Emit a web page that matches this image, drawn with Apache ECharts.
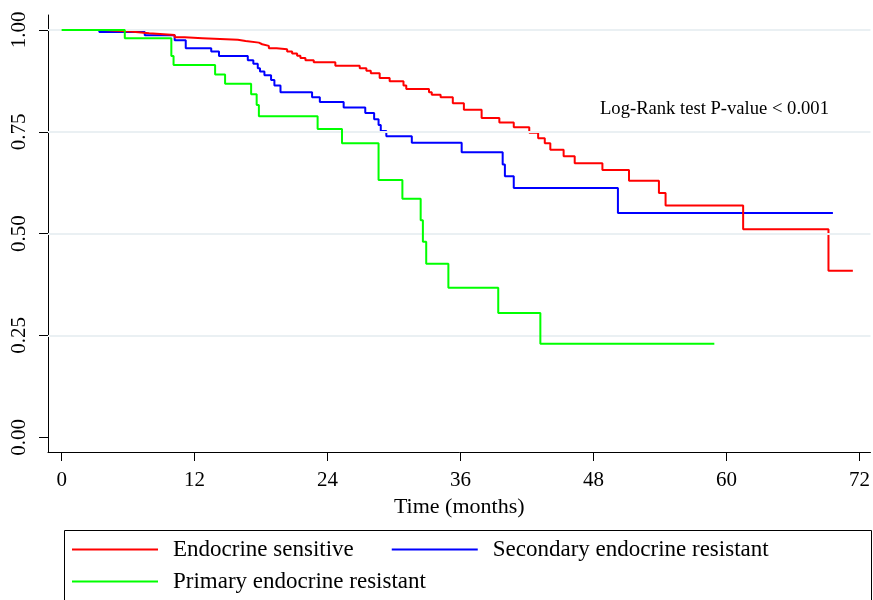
<!DOCTYPE html>
<html>
<head>
<meta charset="utf-8">
<script src="https://cdn.jsdelivr.net/npm/echarts@6/dist/echarts.min.js"></script>
<style>
  html, body { margin: 0; padding: 0; background: #fff; }
  #chart { width: 873px; height: 600px; }
</style>
</head>
<body>
<div id="chart"></div>
<script>
// [time in months, survival after the event]
const sensitive = [
  [0, 1.0], [3.8, 0.996], [6.2, 0.992], [7.9, 0.988], [10.2, 0.982], [11.1, 0.980],
  [12.7, 0.976], [15.9, 0.973], [16.6, 0.969], [17.8, 0.965], [18.1, 0.961], [18.7, 0.955],
  [19.4, 0.953], [20.35, 0.947], [20.8, 0.942], [21.25, 0.937], [21.55, 0.931], [22.0, 0.926],
  [22.75, 0.921], [24.7, 0.912], [26.9, 0.906], [27.5, 0.900], [27.9, 0.894], [28.7, 0.882],
  [29.6, 0.874], [30.85, 0.864], [31.1, 0.855], [33.15, 0.847], [33.4, 0.841], [34.2, 0.835],
  [35.3, 0.820], [36.3, 0.804], [37.9, 0.784], [39.5, 0.773], [40.8, 0.761], [42.2, 0.748],
  [43.0, 0.734], [43.6, 0.722], [44.1, 0.706], [45.3, 0.690], [46.3, 0.673], [48.8, 0.656],
  [51.2, 0.630], [53.9, 0.600], [54.5, 0.569], [61.5, 0.511], [69.2, 0.409], [71.4, 0.409]
];
const secondary = [
  [0, 1.0], [3.4, 0.995], [7.5, 0.987], [10.2, 0.975], [11.2, 0.955], [13.5, 0.947],
  [14.2, 0.936], [16.8, 0.926], [17.3, 0.917], [17.7, 0.906], [17.9, 0.898], [18.3, 0.889],
  [18.9, 0.877], [19.2, 0.864], [19.75, 0.847], [22.6, 0.835], [23.3, 0.823], [25.45, 0.810],
  [27.4, 0.796], [28.2, 0.781], [28.6, 0.767], [28.8, 0.752], [29.3, 0.739], [31.6, 0.723],
  [36.1, 0.700], [39.8, 0.670], [40.0, 0.641], [40.8, 0.612], [50.2, 0.551], [69.6, 0.551]
];
const primary = [
  [0, 1.0], [5.7, 0.980], [9.9, 0.936], [10.1, 0.914], [13.85, 0.891], [14.75, 0.868],
  [17.1, 0.842], [17.6, 0.816], [17.8, 0.788], [23.1, 0.757], [25.3, 0.722], [28.6, 0.632],
  [30.75, 0.586], [32.4, 0.533], [32.6, 0.480], [32.9, 0.426], [34.9, 0.367], [39.4, 0.305],
  [43.2, 0.230], [58.9, 0.230]
];
const xTicks = [0, 12, 24, 36, 48, 60, 72];
const yTicks = [0, 0.25, 0.5, 0.75, 1];
const gridValues = [0.25, 0.5, 0.75, 1];

const font = 'Liberation Serif';
const lineIcon = 'path://M0,0 H86 V2 H0 Z';
const chart = echarts.init(document.getElementById('chart'));

const option = {
  animation: false,
  grid: { left: 48, right: 0, top: 15, bottom: 148 },
  xAxis: {
    type: 'value',
    min: -1.23,
    max: 72.99,
    name: 'Time (months)',
    nameLocation: 'middle',
    nameGap: 42,
    nameTextStyle: { fontFamily: font, fontSize: 22, color: '#000' },
    axisLine: { show: true, onZero: false, lineStyle: { color: '#000', width: 1 } },
    axisTick: { show: true, length: 9, customValues: xTicks, lineStyle: { color: '#000' } },
    axisLabel: { customValues: xTicks, margin: 18, fontFamily: font, fontSize: 21, color: '#000' },
    splitLine: { show: false }
  },
  yAxis: {
    type: 'value',
    min: -0.036,
    max: 1.0368,
    axisLine: { show: true, onZero: false, lineStyle: { color: '#000', width: 1 } },
    axisTick: { show: true, length: 9, customValues: yTicks, lineStyle: { color: '#000' } },
    axisLabel: {
      customValues: yTicks, rotate: 90, margin: 18,
      fontFamily: font, fontSize: 21, color: '#000',
      formatter: v => v.toFixed(2)
    },
    splitLine: { show: false }
  },
  legend: [
    {
      data: ['Endocrine sensitive', 'Secondary endocrine resistant'],
      left: 72, top: 538,
      icon: lineIcon, itemWidth: 86, itemHeight: 2, itemGap: 38,
      padding: 0,
      textStyle: { fontFamily: font, fontSize: 23, color: '#000', padding: [0, 0, 0, 10] }
    },
    {
      data: ['Primary endocrine resistant'],
      left: 72, top: 570,
      icon: lineIcon, itemWidth: 86, itemHeight: 2,
      padding: 0,
      textStyle: { fontFamily: font, fontSize: 23, color: '#000', padding: [0, 0, 0, 10] }
    }
  ],
  graphic: [
    {
      type: 'rect', left: 62, top: 528, silent: true,
      shape: { width: 807, height: 100 },
      style: { fill: 'none', stroke: '#000', lineWidth: 1 }
    },
    {
      type: 'text', left: 600, top: 100,
      style: { text: 'Log-Rank test P-value < 0.001', fontFamily: font, fontSize: 18.6, fill: '#000' }
    }
  ],
  series: [
    {
      // light horizontal grid lines
      type: 'line', data: [], z: 1, silent: true,
      markLine: {
        silent: true, symbol: 'none', label: { show: false },
        lineStyle: { color: '#eaf0f3', width: 2, type: 'solid' },
        data: gridValues.map(v => ({ yAxis: v }))
      }
    },
    {
      name: 'Endocrine sensitive', type: 'line', step: 'end', data: sensitive,
      symbol: 'none', z: 4, lineStyle: { color: '#ff0000', width: 2 }, itemStyle: { color: '#ff0000' }
    },
    {
      name: 'Secondary endocrine resistant', type: 'line', step: 'end', data: secondary,
      symbol: 'none', z: 3, lineStyle: { color: '#0000ff', width: 2 }, itemStyle: { color: '#0000ff' }
    },
    {
      name: 'Primary endocrine resistant', type: 'line', step: 'end', data: primary,
      symbol: 'none', z: 5, lineStyle: { color: '#00ff00', width: 2 }, itemStyle: { color: '#00ff00' }
    }
  ]
};

chart.setOption(option);
</script>
</body>
</html>
